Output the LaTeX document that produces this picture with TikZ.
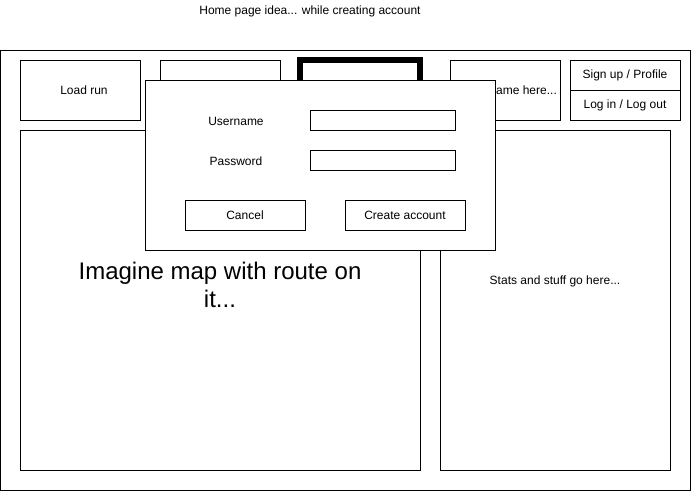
\documentclass[tikz,border=0pt]{standalone}
\usepackage{fontspec}
\setmainfont{Liberation Sans}
\begin{document}
\begin{tikzpicture}[x=1pt,y=-1pt,
  box/.style={draw=black, line width=1pt, fill=white, inner sep=0pt, outer sep=0pt, font=\fontsize{12}{14}\selectfont, align=center},
  plain/.style={inner sep=0pt, font=\fontsize{12}{14}\selectfont}]
\useasboundingbox (0,0) rectangle (691,491);
\node[plain] (title) at (310,11) {Home page idea... while creating account};
\node[box, minimum width=690pt, minimum height=440pt] (frame) at (345,270) {};
\node[box, minimum width=120pt, minimum height=60pt] (load) at (80,90) {\hspace*{8pt}Load run};
\node[box, minimum width=120pt, minimum height=60pt] (tab2) at (220,90) {};
\node[box, line width=6pt, minimum width=120pt, minimum height=60pt] (tab3) at (360,90) {};
\node[box, minimum width=110pt, minimum height=60pt] (uname) at (505,90) {\hspace*{11pt}Username here...};
\node[box, minimum width=110pt, minimum height=30pt] (signup) at (625,75) {Sign up / Profile};
\node[box, minimum width=110pt, minimum height=30pt] (login) at (625,105) {Log in / Log out};
\node[box, minimum width=400pt, minimum height=340pt,
  label={[align=center, font=\fontsize{24}{28}\selectfont, yshift=15pt]center:Imagine map with route on\\it...}] (map) at (220,300) {};
\node[box, minimum width=230pt, minimum height=340pt,
  label={[plain, yshift=19pt]center:Stats and stuff go here...}] (stats) at (555,300) {};
\node[box, minimum width=350pt, minimum height=170pt] (dialog) at (320,165) {};
\node[plain] (ulabel) at (236,121) {Username};
\node[box, minimum width=145pt, minimum height=20pt] (ufield) at (382.5,120) {};
\node[plain] (plabel) at (236,161) {Password};
\node[box, minimum width=145pt, minimum height=20pt] (pfield) at (382.5,160) {};
\node[box, minimum width=120pt, minimum height=30pt] (cancel) at (245,215) {Cancel};
\node[box, minimum width=120pt, minimum height=30pt] (create) at (405,215) {Create account};
\end{tikzpicture}
\end{document}
